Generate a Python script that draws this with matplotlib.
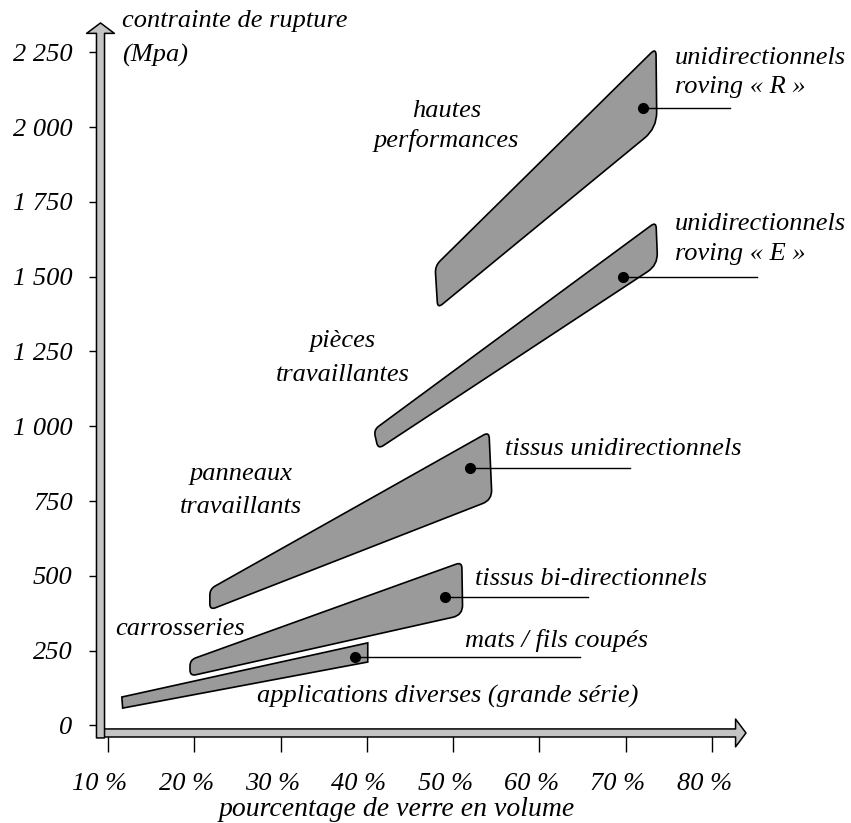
import numpy as np
import matplotlib
matplotlib.use("Agg")
import matplotlib.pyplot as plt
from matplotlib.path import Path
from matplotlib.patches import PathPatch
from matplotlib.transforms import ScaledTranslation

plt.rcParams["font.family"] = ["Liberation Serif", "DejaVu Serif"]
plt.rcParams["font.style"] = "italic"

# axis ticks
x_ticks = [10, 20, 30, 40, 50, 60, 70, 80]
x_tick_labels = ["10 %", "20 %", "30 %", "40 %", "50 %", "60 %", "70 %", "80 %"]
y_ticks = [0, 250, 500, 750, 1000, 1250, 1500, 1750, 2000, 2250]
y_tick_labels = ["0", "250", "500", "750", "1 000", "1 250", "1 500", "1 750", "2 000", "2 250"]

# bands (corner points: % verre, MPa)
r_band_x = [47.9, 73.5, 73.6, 48.2]
r_band_y = [1536, 2264, 1997, 1395]
e_band_x = [40.8, 73.5, 73.7, 41.3]
e_band_y = [988, 1683, 1539, 924]
uni_band_x = [21.8, 54.15, 54.5, 21.8]
uni_band_y = [456, 981, 754, 386]
bi_band_x = [19.5, 51.0, 51.1, 19.5]
bi_band_y = [219, 546, 369, 165]
mats_band_x = [11.6, 40.1, 40.1, 11.7]
mats_band_y = [95, 276, 212, 58]

# marker dots and leader line ends
dot_x = [72.0, 69.7, 51.95, 49.05, 38.6]
dot_y = [2065, 1500, 861, 429, 229]
leader_end_x = [82.1, 85.2, 70.5, 65.6, 64.7]

# labels next to the leaders (left x, baseline y)
side_labels = [
    ("unidirectionnels", 75.7, 2211),
    ("roving « R »", 75.7, 2114),
    ("unidirectionnels", 75.7, 1656),
    ("roving « E »", 75.7, 1556),
    ("tissus unidirectionnels", 56.0, 904),
    ("tissus bi-directionnels", 52.5, 470),
    ("mats / fils coupés", 51.4, 262),
    ("applications diverses (grande série)", 27.3, 75),
    ("carrosseries", 10.8, 302),
]
# centred labels (centre x, baseline y)
centre_labels = [
    ("hautes", 49.2, 2034),
    ("performances", 49.2, 1933),
    ("pièces", 37.2, 1264),
    ("travaillantes", 37.2, 1152),
    ("panneaux", 25.4, 820),
    ("travaillants", 25.4, 710),
]

FS = 19
BAND_FC = "#9a9a9a"


def rounded_path(ax, xs, ys, radii):
    pts = ax.transData.transform(np.column_stack([xs, ys]))
    n = len(pts)
    verts, codes = [], []
    for i in range(n):
        v, p, q = pts[i], pts[i - 1], pts[(i + 1) % n]
        d1, d2 = p - v, q - v
        l1, l2 = np.hypot(*d1), np.hypot(*d2)
        r = min(radii[i], 0.45 * l1, 0.45 * l2)
        a = v + d1 / l1 * r
        b = v + d2 / l2 * r
        verts.append(a)
        codes.append(Path.MOVETO if i == 0 else Path.LINETO)
        verts += [v, b]
        codes += [Path.CURVE3, Path.CURVE3]
    verts.append(verts[0])
    codes.append(Path.CLOSEPOLY)
    verts = ax.transData.inverted().transform(np.array(verts))
    return Path(verts, codes)


fig = plt.figure(figsize=(8.51, 8.23), dpi=100)
ax = fig.add_axes([0.1181, 0.1094, 0.7585, 0.8627])
ax.set_xlim(9.13, 83.93)
ax.set_ylim(-25.1, 2347.9)
for s in ax.spines.values():
    s.set_visible(False)

ax.set_xticks(x_ticks)
ax.set_xticklabels(x_tick_labels, fontsize=FS)
ax.set_yticks(y_ticks)
ax.set_yticklabels(y_tick_labels, fontsize=FS)
ax.tick_params(axis="x", direction="out", length=13.5, width=1.0, pad=15)
ax.tick_params(axis="y", direction="out", length=9, width=1.0, pad=11)
shift = ScaledTranslation(-8 / 100, 0, fig.dpi_scale_trans)
for lab in ax.get_xticklabels():
    lab.set_transform(lab.get_transform() + shift)

# axis arrows
arrow_style = "simple,tail_width=0.58,head_width=2.0,head_length=0.75"
ax.annotate("", xy=(1.0, 0.0), xytext=(-0.005, 0.0), xycoords="axes fraction",
            arrowprops=dict(arrowstyle=arrow_style, fc="#c4c4c4", ec="black",
                            lw=1.1, shrinkA=0, shrinkB=0, mutation_scale=10),
            annotation_clip=False, zorder=3)
ax.annotate("", xy=(0.0, 1.0), xytext=(0.0, -0.007), xycoords="axes fraction",
            arrowprops=dict(arrowstyle=arrow_style, fc="#c4c4c4", ec="black",
                            lw=1.1, shrinkA=0, shrinkB=0, mutation_scale=10),
            annotation_clip=False, zorder=3)

# bands
bands = [
    (r_band_x, r_band_y, [7, 7, 16, 6]),
    (e_band_x, e_band_y, [6, 6, 12, 6]),
    (uni_band_x, uni_band_y, [6, 6, 10, 6]),
    (bi_band_x, bi_band_y, [6, 6, 10, 6]),
    (mats_band_x, mats_band_y, [0, 0, 0, 0]),
]
for bx, by, rad in bands:
    ax.add_patch(PathPatch(rounded_path(ax, bx, by, rad), fc=BAND_FC,
                           ec="black", lw=1.2, zorder=2))

for dx, dy, ex in zip(dot_x, dot_y, leader_end_x):
    ax.plot([dx, ex], [dy, dy], color="black", lw=1.0, zorder=3, clip_on=False)
ax.plot(dot_x, dot_y, "o", color="black", ms=7, zorder=4)

for txt, x, y in side_labels:
    ax.text(x, y, txt, fontsize=FS, ha="left", va="baseline")
for txt, x, y in centre_labels:
    ax.text(x, y, txt, fontsize=FS, ha="center", va="baseline")

ax.text(11.6, 2334, "contrainte de rupture", fontsize=FS, ha="left",
        va="baseline", clip_on=False)
ax.text(11.6, 2218, "(Mpa)", fontsize=FS, ha="left", va="baseline", clip_on=False)
ax.text(43.5, -302, "pourcentage de verre en volume", fontsize=20,
        ha="center", va="baseline", clip_on=False)

fig.savefig("out.png", dpi=100)
